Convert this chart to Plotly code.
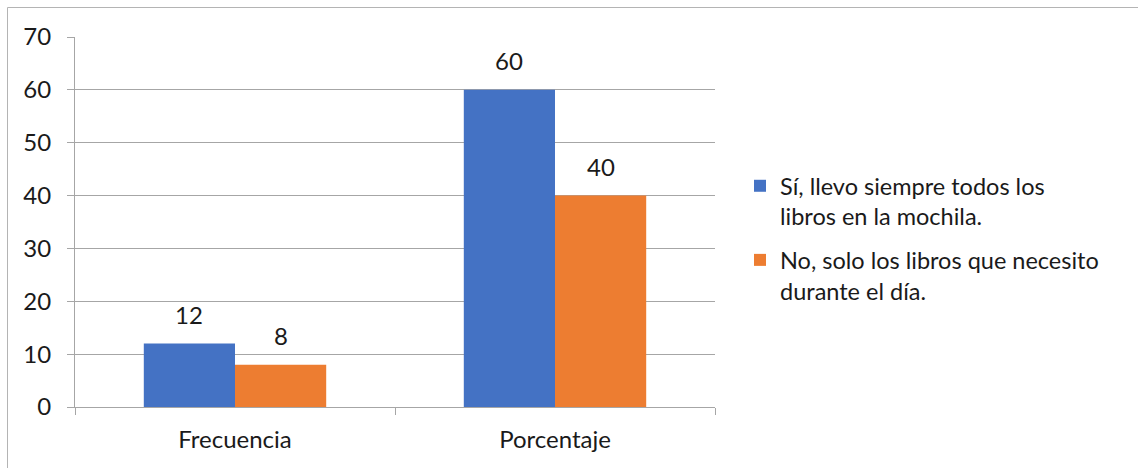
import plotly.graph_objects as go

# Chart data
categories = ["Frecuencia", "Porcentaje"]
series_names = [
    "Sí, llevo siempre todos los<br>libros en la mochila.",
    "No, solo los libros que necesito<br>durante el día.",
]
series_si = [12, 60]
series_no = [8, 40]
y_ticks = [0, 10, 20, 30, 40, 50, 60, 70]

colors = ["#4472C4", "#ED7D31"]
axis_gray = "#a6a6a6"
font_family = "Lato, 'Noto Sans', sans-serif"
text_color = "#1a1a1a"
fs = 24

W, H = 1138, 468
L, R, T, B = 75, 423, 37, 61
plot_w = W - L - R
plot_h = H - T - B
bargap = 0.43

fig = go.Figure()
for i, (name, vals) in enumerate(zip(series_names, [series_si, series_no])):
    fig.add_trace(go.Bar(
        x=categories, y=vals, name=name,
        marker=dict(color=colors[i], line=dict(width=0)),
        legendgroup=f"g{i}",
        offsetgroup=str(i),
    ))

# Value labels above each bar, centred on the bar within its group
cat_w = plot_w / len(categories)
bar_offset = cat_w * (1 - bargap) / 4
annotations = []
for i, vals in enumerate([series_si, series_no]):
    for c, v in zip(categories, vals):
        annotations.append(dict(
            x=c, y=v, text=str(v), showarrow=False,
            xref="x", yref="y", yanchor="bottom",
            xshift=(-1 if i == 0 else 1) * bar_offset,
            yshift=13,
            font=dict(size=fs, color=text_color, family=font_family),
        ))

fig.update_layout(
    width=W, height=H,
    margin=dict(l=L, r=R, t=T, b=B, pad=0),
    paper_bgcolor="white", plot_bgcolor="white",
    barmode="group", bargap=bargap, bargroupgap=0,
    font=dict(family=font_family, size=fs, color=text_color),
    showlegend=True,
    legend=dict(
        x=(740 - L) / plot_w, y=(T + plot_h - 164) / plot_h,
        xanchor="left", yanchor="top",
        valign="top", traceorder="grouped", tracegroupgap=10,
        font=dict(size=23.5, family=font_family, color=text_color),
        bgcolor="rgba(0,0,0,0)",
    ),
    annotations=annotations,
    shapes=[dict(
        type="rect", xref="paper", yref="paper",
        x0=(7.5 - L) / plot_w, x1=(W + 5 - L) / plot_w,
        y0=-(B + 5) / plot_h, y1=(plot_h + T - 7.5) / plot_h,
        line=dict(color="#b4b4b4", width=1), layer="below",
    )],
)

fig.update_xaxes(
    type="category", showline=True, linecolor=axis_gray, linewidth=1,
    ticks="outside", tickson="boundaries", ticklen=7, tickcolor=axis_gray,
    showgrid=False, tickfont=dict(size=fs, family=font_family, color=text_color),
    ticklabelstandoff=11,
)
fig.update_yaxes(
    range=[0, 70], tickvals=y_ticks, showgrid=True, gridcolor=axis_gray,
    gridwidth=1, showline=True, linecolor=axis_gray, linewidth=1,
    ticks="outside", ticklen=7, tickcolor=axis_gray,
    tickfont=dict(size=fs, family=font_family, color=text_color),
    ticklabelstandoff=11, zeroline=False,
)

fig.write_html("out.html")
